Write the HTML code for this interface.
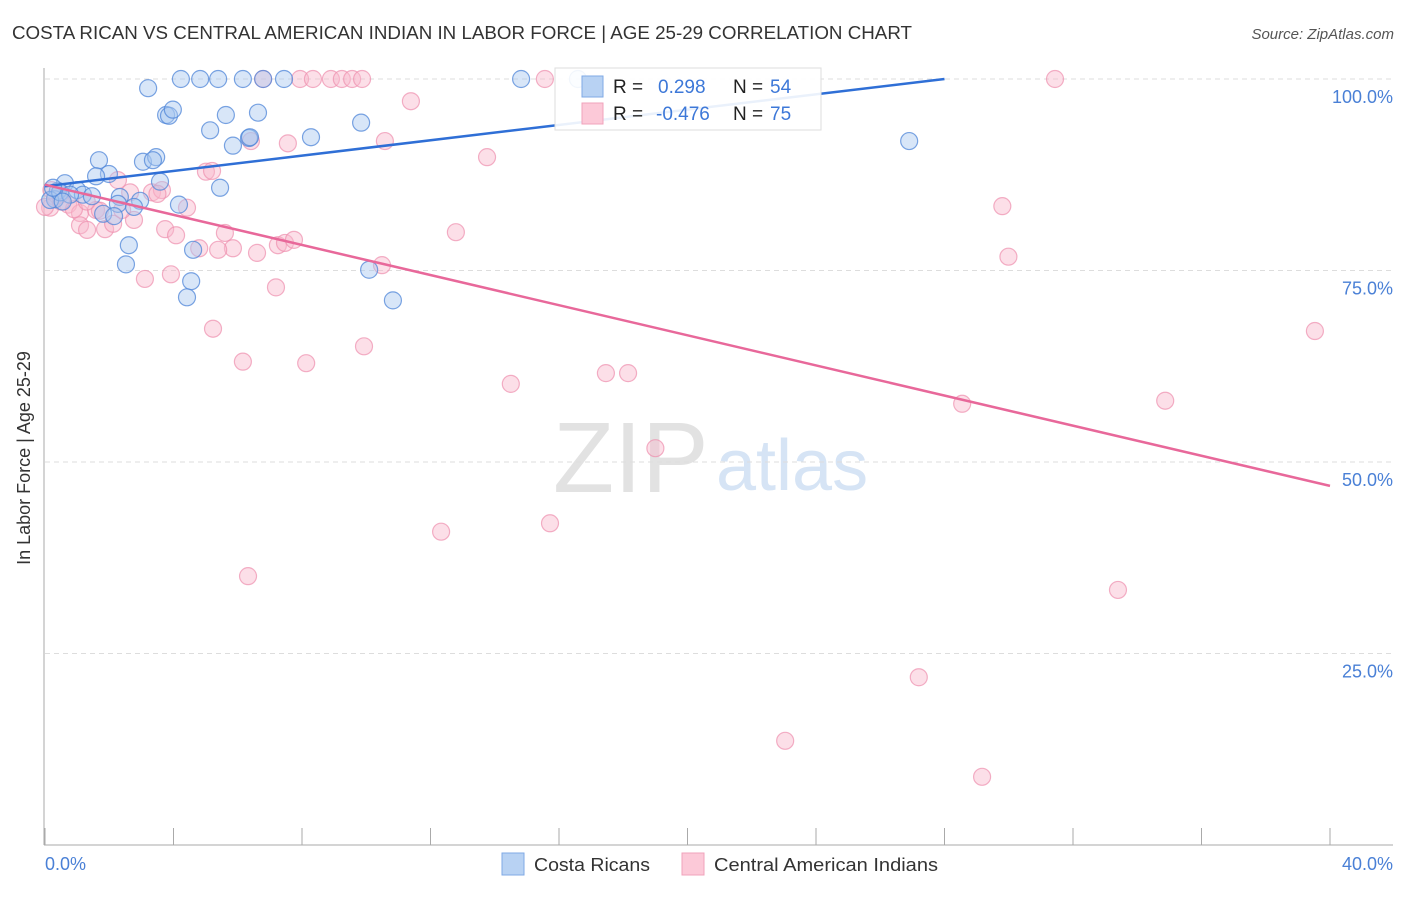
<!DOCTYPE html>
<html><head><meta charset="utf-8"><style>
body{margin:0;background:#fff;font-family:"Liberation Sans",sans-serif;}
svg text{font-family:"Liberation Sans",sans-serif;}
</style></head><body>
<svg id="chart" width="1406" height="892" viewBox="0 0 1406 892" xmlns="http://www.w3.org/2000/svg">
<text x="12" y="39" font-size="18" fill="#333" textLength="900" lengthAdjust="spacingAndGlyphs">COSTA RICAN VS CENTRAL AMERICAN INDIAN IN LABOR FORCE | AGE 25-29 CORRELATION CHART</text>
<text x="1394" y="39" font-size="15" fill="#555" font-style="italic" text-anchor="end">Source: ZipAtlas.com</text>
<g>
<text x="553" y="492" font-size="100" fill="#e2e2e2" font-family="Liberation Serif,serif">ZIP</text>
<text x="716" y="490" font-size="72" fill="#d6e4f5">atlas</text>
</g>
<g id="grid"></g>
<g id="axes"></g>
<g id="points"></g>
<g id="trends"></g>
<text x="30" y="458" font-size="18" fill="#333" text-anchor="middle" transform="rotate(-90 30 458)">In Labor Force | Age 25-29</text>
<g>
<rect x="555" y="68" width="266" height="62" fill="#fff" fill-opacity="0.9" stroke="#ddd"/>
<rect x="582" y="76" width="21" height="21" fill="#b8d2f3" stroke="#7fa9e6"/>
<rect x="582" y="103" width="21" height="21" fill="#fcc9d8" stroke="#f0a3bb"/>
<text x="613" y="93" font-size="19" fill="#222">R =</text>
<text x="658" y="93" font-size="19" fill="#3d78d8">0.298</text>
<text x="733" y="93" font-size="19" fill="#222">N =</text>
<text x="770" y="93" font-size="19" fill="#3d78d8">54</text>
<text x="613" y="120" font-size="19" fill="#222">R =</text>
<text x="656" y="120" font-size="19" fill="#3d78d8">-0.476</text>
<text x="733" y="120" font-size="19" fill="#222">N =</text>
<text x="770" y="120" font-size="19" fill="#3d78d8">75</text>
</g>
<g>
<rect x="502" y="853" width="22" height="22" fill="#b8d2f3" stroke="#7fa9e6"/>
<text x="534" y="871" font-size="18" fill="#333" textLength="116" lengthAdjust="spacingAndGlyphs">Costa Ricans</text>
<rect x="682" y="853" width="22" height="22" fill="#fcc9d8" stroke="#f0a3bb"/>
<text x="714" y="871" font-size="18" fill="#333" textLength="224" lengthAdjust="spacingAndGlyphs">Central American Indians</text>
</g>
</svg>
<script>
const yTicks=[25,50,75,100];
const yTickLabels=["25.0%","50.0%","75.0%","100.0%"];
const xTickValues=[0,4,8,12,16,20,24,28,32,36,40];
const blueX=[3.21,4.23,4.83,5.39,6.16,6.79,7.44,14.82,16.59,3.77,3.86,3.98,5.63,6.63,5.14,6.35,6.38,5.85,8.28,9.84,26.9,1.68,3.05,3.46,3.36,1.99,1.59,0.62,3.58,5.45,0.40,1.0,1.18,1.46,2.33,0.31,2.27,2.96,2.77,4.17,1.81,2.15,0.16,2.61,4.61,2.52,4.55,4.42,10.09,10.83,0.47,0.78,0.25,0.55];
const blueY=[98.8,100,100,100,100,100,100,100,100,95.3,95.2,96.0,95.3,95.6,93.3,92.3,92.4,91.3,92.4,94.3,91.9,89.4,89.2,89.8,89.4,87.6,87.3,86.4,86.6,85.8,85.4,85.5,84.9,84.7,84.6,84.3,83.7,84.1,83.3,83.6,82.4,82.1,84.2,78.3,77.7,75.8,73.6,71.5,75.1,71.1,85.2,84.9,85.8,84.0];
const pinkX=[6.79,7.94,8.34,8.90,9.24,9.56,9.87,15.56,31.44,11.39,7.56,6.41,10.58,13.76,5.01,2.27,2.65,3.33,3.64,0.72,0.16,1.09,1.59,1.09,1.31,1.71,1.87,2.12,2.77,3.74,4.08,4.42,4.8,5.6,5.85,5.39,6.6,7.25,7.47,7.75,12.79,3.11,3.92,7.19,10.49,5.23,6.16,8.13,9.93,14.5,17.46,18.15,19.0,29.8,29.99,28.55,34.87,39.53,12.33,15.72,6.32,33.4,27.2,23.04,29.17,0.31,0.47,0.0,5.2,0.9,0.5,2.4,3.5,1.3,0.2];
const pinkY=[100,100,100,100,100,100,100,100,100,97.1,91.6,91.9,91.9,89.8,87.9,86.8,85.2,85.2,85.5,83.6,83.2,82.5,82.9,80.9,80.3,82.8,80.4,81.1,81.6,80.4,79.6,83.2,77.9,79.9,77.9,77.7,77.3,78.3,78.6,79.0,80.0,73.9,74.5,72.8,75.7,67.4,63.1,62.9,65.1,60.2,61.6,61.6,51.8,83.4,76.8,57.6,58.0,67.1,40.9,42.0,35.1,33.3,21.9,13.6,8.9,84.6,84.9,83.3,88.0,83.0,84.0,82.9,85.0,84.0,85.5];
const blueTrend=[86.0,0.5];
const pinkTrend=[86.2,-0.983];
const NS="http://www.w3.org/2000/svg";
const X=v=>45+v/40*1285;
const Y=v=>845-v/100*766;
function mk(tag,attrs,parent){const e=document.createElementNS(NS,tag);for(const k in attrs)e.setAttribute(k,attrs[k]);document.getElementById(parent).appendChild(e);return e;}
yTicks.forEach((t,i)=>{
 const g=mk('line',{x1:45,x2:1393,y1:Y(t),y2:Y(t),stroke:'#ddd','stroke-dasharray':'5,4'},'grid');
 
 
 const l=mk('text',{x:1393,y:Y(t)+24,'font-size':18,fill:'#4a80d6','text-anchor':'end'},'axes');
 l.textContent=yTickLabels[i];
 
 
});
const ax=mk('line',{x1:44,x2:44,y1:68,y2:845,stroke:'#aaa'},'axes');


const bx=mk('line',{x1:44,x2:1393,y1:845,y2:845,stroke:'#aaa'},'axes');


xTickValues.forEach(v=>{
 const t=mk('line',{x1:X(v),x2:X(v),y1:828,y2:845,stroke:'#aaa'},'axes');
 
 
});
const x0=mk('text',{x:45,y:870,'font-size':18,fill:'#4a80d6'},'axes');
x0.textContent='0.0%';


const x1=mk('text',{x:1393,y:870,'font-size':18,fill:'#4a80d6','text-anchor':'end'},'axes');
x1.textContent='40.0%';


pinkX.forEach((v,i)=>{
 const c=mk('circle',{cx:X(v),cy:Y(pinkY[i]),r:8.5,fill:'#f9b8cc','fill-opacity':0.45,stroke:'#ee8fae','stroke-opacity':0.7,'stroke-width':1.2},'points');
 
 
});
blueX.forEach((v,i)=>{
 const c=mk('circle',{cx:X(v),cy:Y(blueY[i]),r:8.5,fill:'#a9c8f0','fill-opacity':0.45,stroke:'#4f86d8','stroke-opacity':0.75,'stroke-width':1.2},'points');
 
 
});
const bxEnd=Math.min(40,(100-blueTrend[0])/blueTrend[1]);
const bl=mk('line',{x1:X(0),y1:Y(blueTrend[0]),x2:X(bxEnd),y2:Y(blueTrend[0]+blueTrend[1]*bxEnd),stroke:'#2f6fd6','stroke-width':2.5},'trends');


const pl=mk('line',{x1:X(0),y1:Y(pinkTrend[0]),x2:X(40),y2:Y(pinkTrend[0]+pinkTrend[1]*40),stroke:'#e8689a','stroke-width':2.5},'trends');


</script>
</body></html>
